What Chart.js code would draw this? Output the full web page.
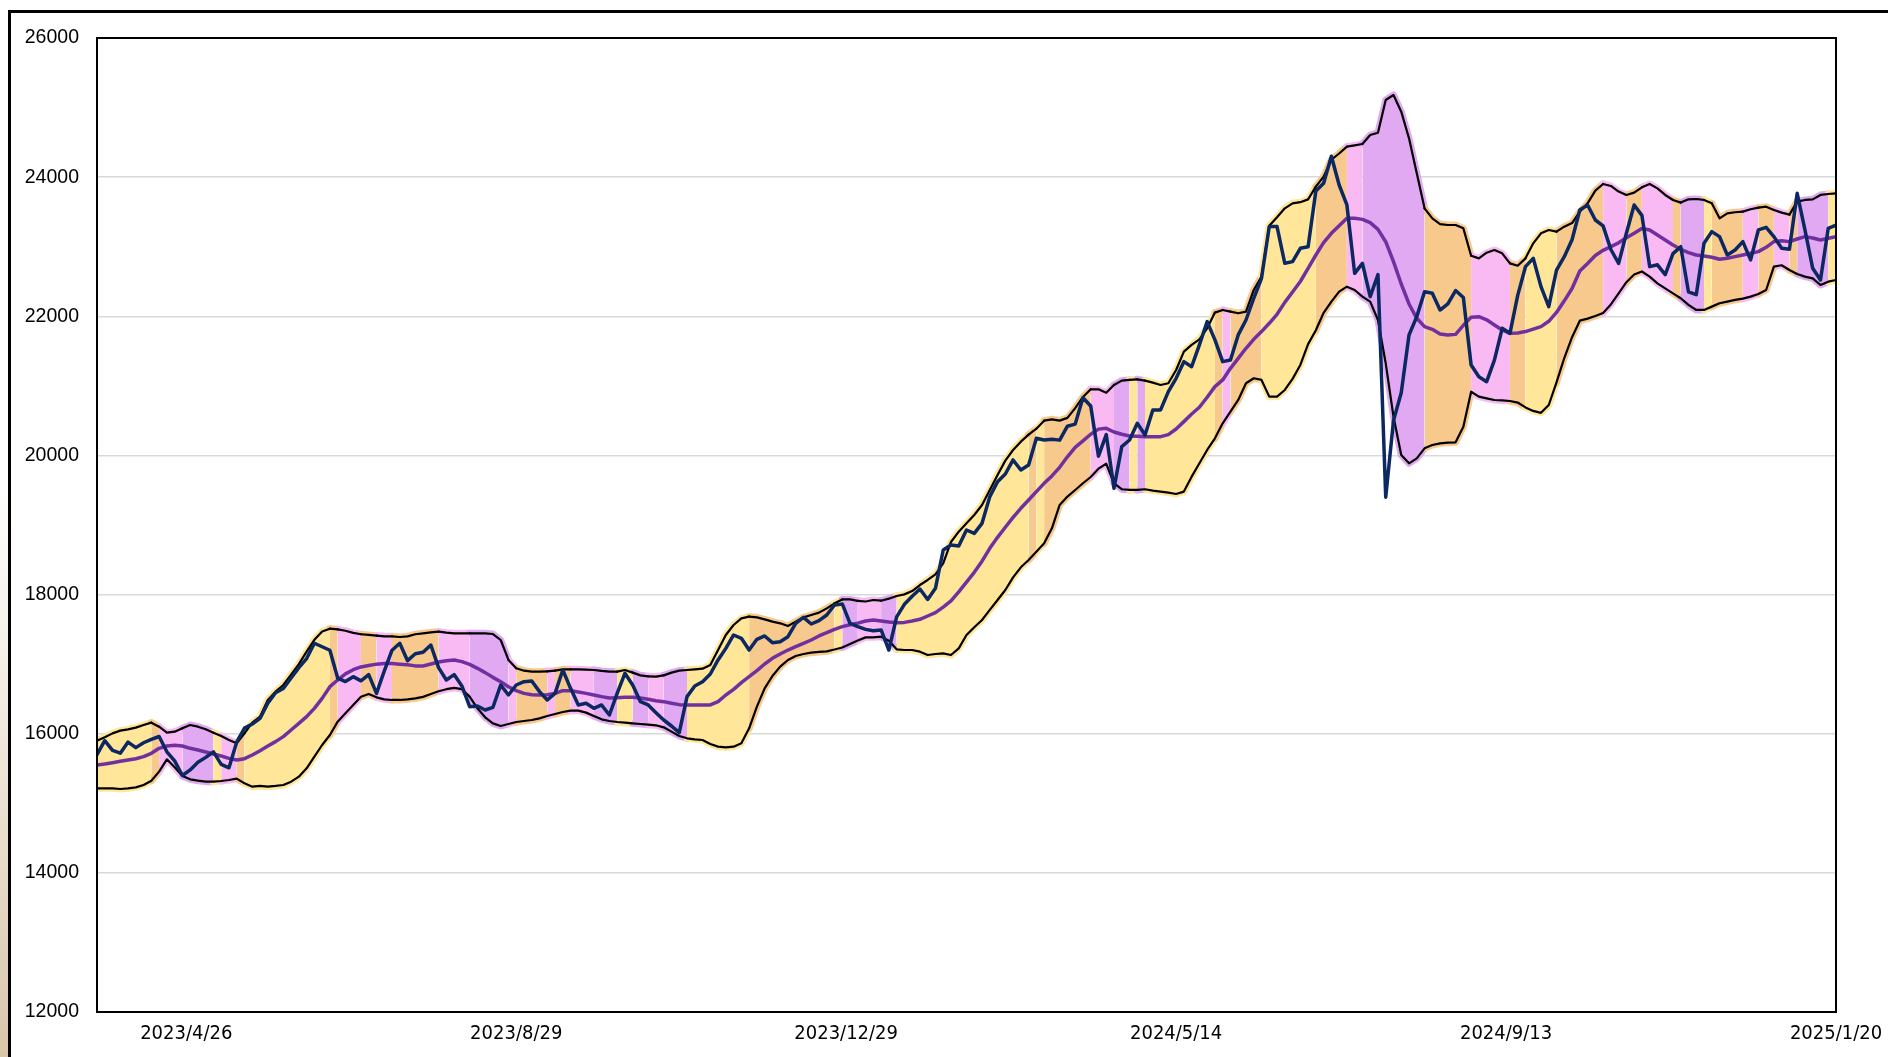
<!DOCTYPE html>
<html><head><meta charset="utf-8">
<script src="https://cdn.jsdelivr.net/npm/chart.js@4.4.1/dist/chart.umd.min.js"></script>
<style>
html,body{margin:0;padding:0;background:#fff;overflow:hidden;}
#wrap{position:relative;width:1888px;height:1057px;}
#strip{position:absolute;left:0;top:0;width:8px;height:1057px;background:linear-gradient(to bottom,#ffffff 0%,#ffffff 45%,#f3ede4 65%,#d9c6aa 100%);}
#frame{position:absolute;left:8px;top:10px;width:1900px;height:1100px;border-top:3px solid #000;border-left:3px solid #000;}
canvas{position:absolute;left:0;top:0;}
</style></head>
<body><div id="wrap"><div id="strip"></div><div id="frame"></div><canvas id="c" width="1888" height="1057"></canvas></div>
<script>
// one point every 2 trading days
const DAYS_PER_POINT = 2;
const tickDays = [23,108,193,278,363,448];
const tickLabels = ['2023/4/26','2023/8/29','2023/12/29','2024/5/14','2024/9/13','2025/1/20'];
const yTicks = [12000,14000,16000,18000,20000,22000,24000,26000];

const closeVals = [
15700,15900,15760,15720,15880,15800,15870,15920,15960,15740,15610,15400,15480,15590,15660,15740,15560,15510,15880,16080,16140,16220,16440,16590,16650,
16800,16950,17080,17300,17250,17200,16800,16750,16820,16760,16850,16580,16900,17200,17300,17050,17150,17170,17275,16950,16772,16850,16686,16389,16398,
16341,16380,16700,16557,16700,16748,16758,16605,16485,16580,16916,16652,16413,16437,16365,16413,16269,16580,16868,16700,16461,16413,16303,16197,16111,
16015,16533,16686,16748,16858,17060,17227,17419,17371,17203,17357,17405,17309,17323,17395,17587,17673,17577,17625,17706,17850,17865,17587,17539,17500,
17480,17491,17203,17680,17860,17975,18080,17930,18090,18641,18713,18698,18928,18880,19024,19408,19623,19733,19935,19791,19863,20246,20222,20232,20220,
20420,20450,20830,20710,19990,20300,19528,20127,20222,20462,20294,20654,20654,20917,21109,21348,21276,21588,21923,21660,21348,21372,21732,21947,22259,
22546,23289,23289,22762,22786,22977,23000,23800,23911,24300,23887,23600,22617,22761,22282,22600,19400,20500,20900,21731,21995,22354,22330,22090,22177,
22370,22270,21300,21130,21060,21370,21827,21755,22300,22713,22833,22426,22138,22665,22857,23100,23528,23600,23384,23300,22960,22760,23193,23600,23450,
22714,22740,22600,22900,23000,22350,22310,23050,23217,23145,22881,22953,23073,22810,23241,23279,23145,22977,22963,23768,23241,22690,22522,23265,23312];

const maVals = [
15550,15565,15584,15603,15622,15641,15670,15718,15790,15823,15833,15823,15790,15766,15737,15708,15680,15646,15622,15641,15694,15756,15823,15886,15958,
16053,16149,16245,16365,16508,16676,16772,16860,16920,16960,16980,17000,17010,17010,17000,16990,16975,16973,17002,17031,17050,17060,17036,16997,16940,
16878,16810,16748,16676,16619,16580,16561,16557,16561,16580,16619,16619,16600,16580,16557,16533,16513,16518,16523,16523,16513,16494,16475,16461,16437,
16418,16413,16413,16413,16413,16461,16557,16638,16734,16820,16906,17002,17084,17146,17203,17251,17299,17347,17405,17452,17500,17539,17567,17590,17620,
17634,17620,17606,17596,17600,17620,17645,17692,17740,17820,17910,18040,18180,18320,18480,18665,18823,18967,19110,19240,19360,19479,19599,19705,19829,
19980,20115,20210,20305,20378,20390,20337,20304,20280,20275,20270,20270,20270,20299,20380,20486,20596,20692,20836,20989,21085,21252,21396,21540,21669,
21780,21899,22029,22200,22350,22500,22690,22881,23058,23192,23302,23408,23408,23393,23346,23250,23072,22785,22464,22177,21971,21851,21812,21746,21731,
21740,21870,21985,21995,21950,21875,21803,21755,21760,21780,21815,21851,21928,22055,22222,22400,22650,22760,22874,22948,23001,23056,23128,23192,23262,
23241,23169,23097,23025,22963,22915,22881,22867,22848,22819,22833,22857,22881,22905,22929,22991,23073,23087,23073,23111,23145,23126,23097,23121,23145];

const upperVals = [
15900,15948,16005,16044,16063,16087,16125,16159,16101,16015,16029,16077,16125,16101,16063,16015,15967,15910,15862,16005,16159,16245,16485,16604,16700,
16850,17000,17180,17350,17470,17510,17500,17480,17450,17430,17420,17410,17400,17400,17390,17400,17430,17443,17457,17467,17452,17443,17443,17443,17443,
17443,17433,17347,17060,16940,16906,16892,16892,16897,16906,16925,16925,16925,16920,16916,16902,16892,16892,16916,16878,16839,16825,16820,16839,16878,
16906,16916,16925,16935,16988,17203,17419,17563,17658,17682,17673,17644,17611,17587,17548,17611,17673,17706,17740,17802,17874,17930,17930,17910,17900,
17922,17912,17941,17979,18003,18050,18137,18210,18290,18450,18756,18904,19024,19144,19288,19503,19719,19925,20078,20198,20299,20385,20500,20519,20500,
20540,20680,20840,20950,20950,20900,21013,21075,21085,21094,21075,21046,21013,21037,21228,21492,21588,21669,21827,22053,22091,22067,22043,22067,22378,
22570,23300,23423,23552,23624,23640,23680,23863,24007,24250,24340,24438,24457,24476,24605,24639,25109,25180,24941,24558,24055,23552,23408,23326,23312,
23312,23264,22870,22833,22914,22953,22905,22761,22727,22833,23049,23192,23240,23216,23288,23340,23504,23624,23806,23902,23873,23792,23744,23777,23854,
23902,23839,23744,23672,23634,23681,23686,23672,23624,23408,23480,23495,23504,23538,23562,23576,23528,23490,23461,23648,23672,23681,23744,23758,23768];

const lowerVals = [
15215,15215,15215,15205,15215,15229,15263,15325,15455,15632,15517,15392,15344,15325,15311,15311,15320,15335,15354,15287,15239,15249,15239,15249,15263,
15311,15383,15502,15670,15838,15982,16173,16293,16413,16532,16571,16523,16494,16485,16485,16494,16508,16530,16570,16610,16640,16660,16640,16533,16365,
16236,16149,16111,16140,16168,16183,16197,16221,16255,16283,16312,16331,16331,16303,16255,16207,16183,16168,16159,16149,16140,16130,16121,16092,16030,
15967,15934,15919,15910,15852,15814,15804,15814,15862,16077,16389,16652,16830,16964,17060,17117,17146,17165,17175,17184,17210,17240,17290,17340,17385,
17385,17395,17337,17213,17203,17203,17179,17131,17146,17155,17131,17227,17419,17530,17635,17779,17922,18066,18248,18392,18497,18617,18737,18952,19288,
19408,19503,19600,19690,19810,19880,19600,19514,19504,19504,19514,19494,19480,19466,19446,19480,19695,19887,20079,20246,20462,20630,20797,21037,21109,
21085,20845,20845,20941,21100,21300,21600,21800,22050,22210,22354,22426,22378,22282,22210,21947,21324,20557,20006,19886,19958,20102,20150,20174,20183,
20188,20413,20916,20845,20821,20797,20790,20782,20760,20690,20640,20612,20725,21050,21400,21700,21937,21966,22005,22048,22170,22330,22490,22600,22644,
22570,22474,22402,22330,22259,22163,22091,22091,22139,22187,22211,22235,22254,22283,22321,22378,22714,22733,22666,22608,22570,22546,22450,22498,22522];

// band state per segment: Y yellow, O orange, P pink, U purple
const bandState = (
 'YYYYYYY'+'O'+'PPP'+'UUUU'+'Y'+'PP'+'O'+'YYYYYYYYYYY'+'O'+'PPP'+'OO'+'PP'+'OOOOOO'+'PPPP'+'UUUUU'+'P'+
 'OOOO'+'P'+'OO'+'PPP'+'UUU'+'YY'+'UU'+'PP'+'UUU'+'YYYYYYYY'+'OOOOOOOOOOO'+'Y'+'UU'+'PPP'+'UU'+
 'YYYYYYYYYYYYYYYYY'+'O'+'Y'+'OOOOOO'+'PPP'+'UU'+'Y'+'U'+'YYYYYYYYY'+'O'+'P'+'OOOO'+'YYYYYYY'+'OOOO'+
 'PP'+'UUUUUUUU'+'OOOOOO'+'PPPPP'+'OO'+'YYYY'+'OOOOOO'+'PPP'+'OO'+'PPPP'+'O'+'UUU'+'Y'+'OOOO'+'PP'+
 'OO'+'PP'+'O'+'UUUU'+'Y'+'Y').split('');

const stateColor = {Y:'#FFE699', O:'#F8C98C', P:'#F9B9F3', U:'#E0A9F1'};

const pts = arr => arr.map((v,i) => ({x: i*DAYS_PER_POINT, y: v}));
const segFill = ctx => stateColor[bandState[ctx.p0DataIndex]];

const framePlugin = {
  id: 'plotFrame',
  afterDatasetsDraw(chart){
    const {ctx, chartArea:a} = chart;
    ctx.save();
    ctx.strokeStyle = '#000';
    ctx.lineWidth = 2;
    ctx.strokeRect(a.left, a.top, a.right - a.left, a.bottom - a.top);
    ctx.restore();
  }
};

new Chart(document.getElementById('c'), {
  type: 'line',
  data: {
    datasets: [
      {label:'close', data: pts(closeVals), borderColor:'#0B2862', borderWidth:3.5, pointRadius:0, fill:false, order:1},
      {label:'ma', data: pts(maVals), borderColor:'#7030A0', borderWidth:3.5, pointRadius:0, fill:false, order:2},
      {label:'lower', data: pts(lowerVals), borderColor:'#000', borderWidth:2.2, pointRadius:0, fill:false, order:3},
      {label:'upper', data: pts(upperVals), borderColor:'#000', borderWidth:2.2, pointRadius:0, order:4,
        fill:{target:2}, backgroundColor:'#FFE699', segment:{backgroundColor: segFill}},
      {label:'upperHalo', data: pts(upperVals), borderColor:'#FFE699', borderWidth:7, pointRadius:0, fill:false, order:10,
        segment:{borderColor: segFill}},
      {label:'lowerHalo', data: pts(lowerVals), borderColor:'#FFE699', borderWidth:7, pointRadius:0, fill:false, order:11,
        segment:{borderColor: segFill}}
    ]
  },
  options: {
    responsive:false,
    animation:false,
    layout:{padding:{top:38, right:52, left:0, bottom:0}},
    plugins:{legend:{display:false}, tooltip:{enabled:false}},
    elements:{line:{tension:0, borderJoinStyle:'round', borderCapStyle:'round'}},
    scales:{
      x:{
        type:'linear', min:0, max:448,
        grid:{display:false, drawTicks:false},
        border:{display:false},
        afterBuildTicks: s => { s.ticks = tickDays.map(v => ({value:v})); },
        afterFit: s => { s.height = 45; s.paddingLeft = 0; s.paddingRight = 0; },
        ticks:{autoSkip:false, maxRotation:0, padding:10, color:'#000',
          font:{family:"'Liberation Sans Narrow','Arial Narrow','DejaVu Sans Condensed',sans-serif", size:20},
          callback: v => { const k = tickDays.indexOf(v); return k >= 0 ? tickLabels[k] : ''; }}
      },
      y:{
        min:12000, max:26000,
        grid:{color:'#d9d9d9', lineWidth:1.5, drawTicks:false},
        border:{display:false},
        afterBuildTicks: s => { s.ticks = yTicks.map(v => ({value:v})); },
        afterFit: s => { s.width = 97; s.paddingTop = 0; s.paddingBottom = 0; },
        ticks:{padding:18, color:'#000',
          font:{family:"'Liberation Sans',Arial,sans-serif", size:19.5},
          callback: v => String(v)}
      }
    }
  },
  plugins:[framePlugin]
});
</script>
</body></html>
